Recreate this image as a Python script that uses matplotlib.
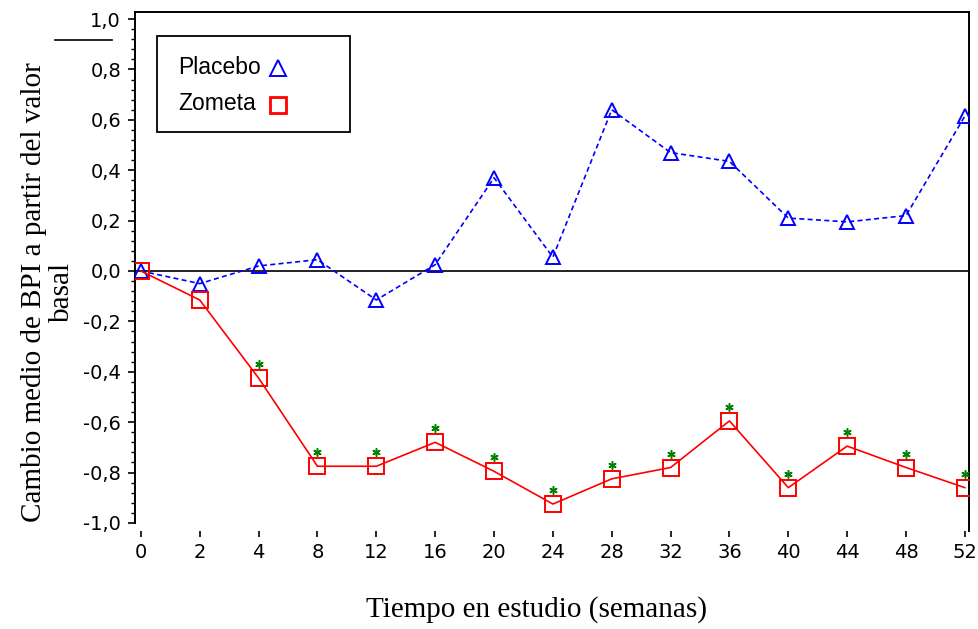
import numpy as np
import matplotlib.pyplot as plt
from matplotlib.lines import Line2D
from matplotlib.patches import Rectangle
from matplotlib.ticker import MultipleLocator, FuncFormatter
from matplotlib import transforms

# semanas de estudio (eje categórico)
weeks = ["0", "2", "4", "8", "12", "16", "20", "24", "28", "32", "36", "40", "44", "48", "52"]

# cambio medio de BPI respecto al valor basal
placebo = [0.0, -0.05, 0.02, 0.045, -0.115, 0.025, 0.37, 0.055, 0.64, 0.47, 0.435, 0.21, 0.195, 0.22, 0.615]
zometa = [0.0, -0.115, -0.425, -0.775, -0.775, -0.68, -0.795, -0.925, -0.825, -0.78, -0.595, -0.86, -0.695, -0.78, -0.86]

# diferencia significativa (asterisco)
significant = [False, False, True, True, True, True, True, True, True, True, True, True, True, True, True]

x = np.arange(len(weeks))

W, H = 979, 629
ax_l, ax_r, ax_t, ax_b = 135, 969, 12, 530.5

fig = plt.figure(figsize=(W / 100, H / 100), dpi=100)
ax = fig.add_axes([ax_l / W, 1 - ax_b / H, (ax_r - ax_l) / W, (ax_b - ax_t) / H])


def px2ax(px, py):
    """pixel de la imagen -> coordenadas de ejes"""
    return (px - ax_l) / (ax_r - ax_l), (ax_b - py) / (ax_b - ax_t)


ax.axhline(0, color="#222222", lw=1.4, zorder=1)

ax.plot(x, placebo, color="#0000ff", lw=1.2, ls=(0, (3, 2)),
        marker="^", markersize=10, markerfacecolor="none", markeredgewidth=1.4, zorder=3)
ax.plot(x, zometa, color="#ff0000", lw=1.2, ls="-",
        marker="s", markersize=11, markerfacecolor="none", markeredgewidth=1.4, zorder=3)

# asteriscos encima de los puntos de Zometa
star_trans = transforms.offset_copy(ax.transData, fig=fig, x=0, y=14, units="dots")
sx = [xi for xi, s in zip(x, significant) if s]
sy = [yi for yi, s in zip(zometa, significant) if s]
ax.plot(sx, sy, ls="none", marker=(6, 2, 0), markersize=6, color="#008000",
        markeredgewidth=1.1, transform=star_trans, zorder=4)

ax.set_xlim(-0.10, 14.07)
ax.set_ylim(-1.03, 1.028)

ax.set_xticks(x)
ax.set_xticklabels(weeks)
ax.yaxis.set_major_locator(MultipleLocator(0.2))
ax.yaxis.set_minor_locator(MultipleLocator(0.04))
ax.yaxis.set_major_formatter(FuncFormatter(lambda v, p: f"{v:.1f}".replace(".", ",").replace("-0,0", "0,0")))

for lab in ax.get_xticklabels() + ax.get_yticklabels():
    lab.set_fontfamily("DejaVu Sans")
    lab.set_fontsize(14)

ax.tick_params(axis="y", which="major", length=5, width=1.2, pad=5, direction="out")
ax.tick_params(axis="y", which="minor", length=3, width=1.0, direction="out")
ax.tick_params(axis="x", which="major", length=4, width=1.2, pad=5, direction="out")

ax.spines["bottom"].set_visible(False)
ax.spines["left"].set_bounds(-1.0, 1.028)
for side in ["left", "top", "right"]:
    ax.spines[side].set_linewidth(1.4)

ax.set_xlabel("Tiempo en estudio (semanas)", family="Liberation Serif", fontsize=21)
ax.xaxis.set_label_coords(*px2ax(537, 596))
ax.set_ylabel("Cambio medio de BPI a partir del valor\nbasal", family="Liberation Serif",
              fontsize=21, linespacing=1.1)
ax.yaxis.set_label_coords(*px2ax(75, 292))

# leyenda dibujada a mano (caja ancha con texto + marcador)
bx0, by0 = px2ax(157, 132)
bx1, by1 = px2ax(350, 36)
ax.add_patch(Rectangle((bx0, by0), bx1 - bx0, by1 - by0, transform=ax.transAxes,
                       facecolor="white", edgecolor="black", lw=1.3, zorder=5))
labels = ["Placebo", "Zometa"]
markers = ["^", "s"]
colors = ["#0000ff", "#ff0000"]
label_y = [67, 104]
for lab, mk, col, py in zip(labels, markers, colors, label_y):
    tx, ty = px2ax(178, py)
    ax.text(tx, ty, lab, transform=ax.transAxes, family="Liberation Sans", fontsize=16.5,
            ha="left", va="center", zorder=6)
    mx, my = px2ax(278, py + 1)
    ax.plot([mx], [my], transform=ax.transAxes, ls="none", marker=mk, markersize=11,
            markerfacecolor="none", markeredgecolor=col,
            markeredgewidth=1.4 if mk == "^" else 2.0, zorder=6, clip_on=False)

# raya suelta arriba a la izquierda
fig.add_artist(Line2D([55 / W, 112 / W], [1 - 40 / H, 1 - 40 / H], color="black", lw=1.2))

fig.savefig("out.png", dpi=100)
